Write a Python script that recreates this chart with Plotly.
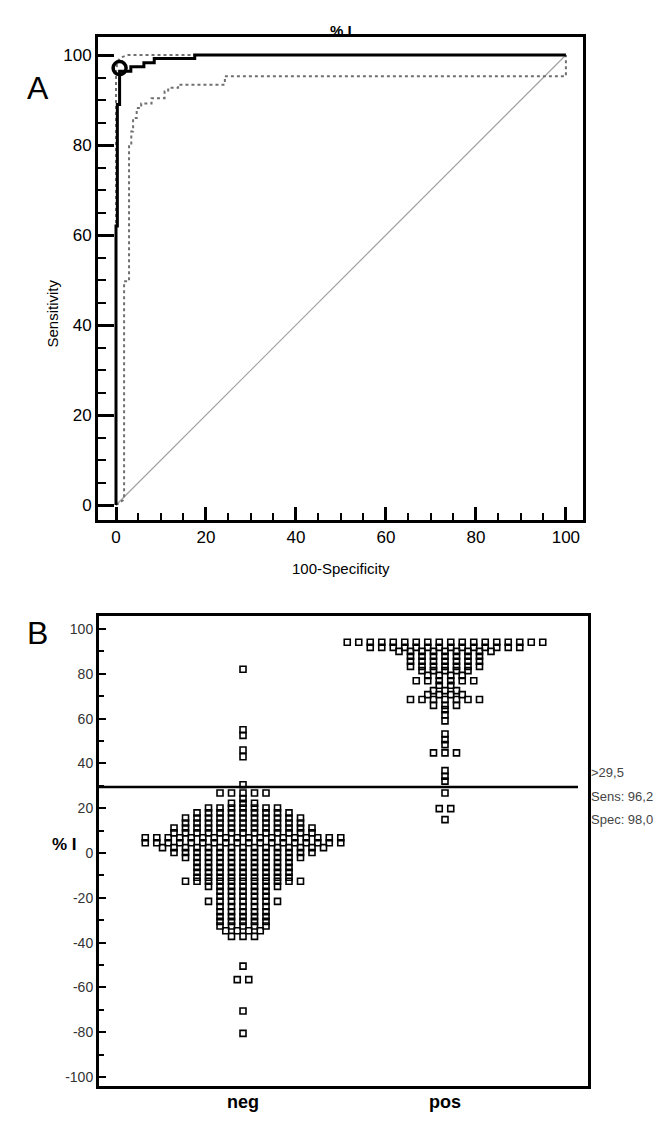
import plotly.graph_objects as go

# ---------------- Panel A : ROC curve data ----------------
roc_x = [0, 0, 0.3, 0.3, 0.8, 0.8, 3.3, 3.3, 6.2, 6.2, 8.5, 8.5, 17.5, 17.5, 100]
roc_y = [0, 62, 62, 89, 89, 96.4, 96.4, 97.4, 97.4, 98.3, 98.3, 99.2, 99.2, 100, 100]

ci_upper_x = [0, 0, 0.3, 1.2, 2.7, 100]
ci_upper_y = [0, 96, 98.6, 99.5, 100, 100]

ci_lower_x = [0, 1.8, 1.8, 2.9, 2.9, 3.4, 3.4, 3.8, 3.8, 4.6, 4.6, 5.6, 5.6, 7.9, 7.9,
              10.8, 10.8, 11.6, 11.6, 13.8, 13.8, 24.2, 24.2, 100, 100]
ci_lower_y = [0, 1.2, 49.7, 49.7, 80.1, 80.1, 83, 83, 86, 86, 88.2, 88.2, 89.2, 89.2, 90.4,
              90.4, 91.9, 91.9, 92.7, 92.7, 93.4, 93.4, 95.3, 95.3, 100]

diag_x = [0, 100]
diag_y = [0, 100]

opt_x = [0.8]
opt_y = [97.1]

x_ticks_a = [0, 20, 40, 60, 80, 100]
y_ticks_a = [0, 20, 40, 60, 80, 100]

# ---------------- Panel B : dot plot data (value levels and counts) ----------------
groups = ["neg", "pos"]
neg_levels = [82, 55, 52.5, 46, 43, 30.5, 26.8, 24.3, 22.2, 20.1, 17.9, 15.6, 13.4, 11.2, 9.0,
              6.8, 4.6, 2.4, 0.2, -2.0, -4.2, -6.4, -8.6, -10.8, -12.6, -14.9, -17.1, -19.3,
              -21.6, -23.9, -26.2, -28.4, -30.5, -32.6, -34.7, -37.2, -50.5, -56.5, -70.5, -80.5]
neg_counts = [1, 1, 1, 1, 1, 1, 5, 1, 3, 7, 9, 11, 11, 13, 13,
              18, 18, 15, 13, 11, 9, 9, 9, 9, 11, 7, 5, 5,
              7, 5, 5, 5, 5, 5, 4, 3, 1, 2, 1, 1]
pos_levels = [94.1, 91.8, 90.0, 87.8, 85.6, 83.3, 81.4, 79.3, 76.9, 74.9, 72.5, 70.7, 68.5,
              65.9, 64.0, 61.7, 59.0, 53.1, 50.6, 48.4, 44.7, 36.8, 34.3, 32.1, 26.8, 19.8, 14.9]
pos_counts = [18, 14, 9, 7, 7, 7, 5, 4, 6, 2, 3, 4, 7,
              3, 1, 1, 1, 1, 1, 1, 3, 1, 1, 1, 1, 2, 1]
cutoff = 29.5
cutoff_text = [">29,5", "Sens: 96,2", "Spec: 98,0"]
y_ticks_b = [-100, -80, -60, -40, -20, 0, 20, 40, 60, 80, 100]
y_ticktext_b = ["-100", "-80", "-60", "-40", "-20", "0", "20", "40", "60", "80", "100"]

W, H = 666, 1126
FONT = "Liberation Sans, Arial, sans-serif"
NARROW = "Liberation Sans Narrow, Arial Narrow, Liberation Sans, Arial, sans-serif"


def px_x(p):
    return p / W


def px_y(p):
    return 1 - p / H


def dot_positions(center, levels, counts, step):
    xs, ys = [], []
    for v, n in zip(levels, counts):
        for i in range(n):
            xs.append(center + (i - (n - 1) / 2) * step)
            ys.append(v)
    return xs, ys


fig = go.Figure()

# Panel A traces
fig.add_trace(go.Scatter(x=diag_x, y=diag_y, mode="lines",
                         line=dict(color="#a0a0a0", width=1.2), xaxis="x", yaxis="y"))
fig.add_trace(go.Scatter(x=ci_lower_x, y=ci_lower_y, mode="lines",
                         line=dict(color="#707070", width=2, dash="dot"), xaxis="x", yaxis="y"))
fig.add_trace(go.Scatter(x=ci_upper_x, y=ci_upper_y, mode="lines",
                         line=dict(color="#707070", width=2, dash="dot"), xaxis="x", yaxis="y"))
fig.add_trace(go.Scatter(x=roc_x, y=roc_y, mode="lines",
                         line=dict(color="black", width=3), xaxis="x", yaxis="y"))
fig.add_trace(go.Scatter(x=opt_x, y=opt_y, mode="markers",
                         marker=dict(symbol="circle-open", size=13, color="black",
                                     line=dict(width=3.5, color="black")),
                         xaxis="x", yaxis="y"))

# Panel B traces
step = 11.5 / 202.0
nx, ny = dot_positions(0, neg_levels, neg_counts, step)
px_, py_ = dot_positions(1, pos_levels, pos_counts, step)
for xs, ys in ((nx, ny), (px_, py_)):
    fig.add_trace(go.Scatter(x=xs, y=ys, mode="markers",
                             marker=dict(symbol="square-open", size=6, color="black",
                                         line=dict(width=1.6, color="black")),
                             xaxis="x2", yaxis="y2"))

axis_common = dict(showgrid=False, zeroline=False, showline=True, mirror=True,
                   linecolor="black", linewidth=3)

fig.update_layout(
    width=W, height=H, margin=dict(l=0, r=0, t=0, b=0),
    paper_bgcolor="white", plot_bgcolor="white", showlegend=False,
    font=dict(family=FONT, color="black"),
    xaxis=dict(domain=[px_x(90), px_x(575)], range=[-4, 103.8], anchor="y",
               tickvals=x_ticks_a, ticks="inside", ticklen=13, tickwidth=2.5,
               tickcolor="black", tickfont=dict(size=17, family=FONT),
               minor=dict(ticks="inside", ticklen=7, tickwidth=2, dtick=5, tick0=0,
                          tickcolor="black", showgrid=False),
               **axis_common),
    yaxis=dict(domain=[px_y(512), px_y(29)], range=[-3.33, 104], anchor="x",
               tickvals=y_ticks_a, ticks="inside", ticklen=16, tickwidth=2.5,
               tickcolor="black", tickfont=dict(size=17, family=FONT),
               minor=dict(ticks="inside", ticklen=8, tickwidth=2, dtick=5, tick0=0,
                          tickcolor="black", showgrid=False),
               **axis_common),
    xaxis2=dict(domain=[px_x(91), px_x(580)], range=[-0.713, 1.708], anchor="y2",
                showticklabels=False, ticks="",
                **axis_common),
    yaxis2=dict(domain=[px_y(1078), px_y(608)], range=[-104, 105.8], anchor="x2",
                tickvals=y_ticks_b, ticktext=y_ticktext_b, ticks="inside", ticklen=7,
                tickwidth=2, tickcolor="black",
                tickfont=dict(size=14, family=NARROW, color="#333"),
                minor=dict(ticks="inside", ticklen=5, tickwidth=2, dtick=10, tick0=0,
                           tickcolor="black", showgrid=False),
                **axis_common),
    shapes=[dict(type="line", xref="x2 domain", yref="y2", x0=0, x1=(570 - 91) / (580 - 91),
                 y0=cutoff, y1=cutoff, line=dict(color="black", width=2.5))],
)

ann = []
ann.append(dict(text="<b>% I</b>", x=px_x(333), y=px_y(12), xref="paper", yref="paper",
                showarrow=False, font=dict(size=15, family=FONT)))
ann.append(dict(text="A", x=px_x(17), y=px_y(60), xref="paper", yref="paper",
                showarrow=False, font=dict(size=32, family=FONT)))
ann.append(dict(text="B", x=px_x(17), y=px_y(625), xref="paper", yref="paper",
                showarrow=False, font=dict(size=32, family=FONT)))
ann.append(dict(text="100-Specificity", x=px_x(333), y=px_y(560), xref="paper", yref="paper",
                showarrow=False, font=dict(size=15, family=FONT)))
ann.append(dict(text="Sensitivity", x=px_x(33), y=px_y(270), xref="paper", yref="paper",
                showarrow=False, textangle=-90, font=dict(size=15, family=FONT)))
ann.append(dict(text="<b>% I</b>", x=px_x(42), y=px_y(848), xref="paper", yref="paper",
                showarrow=False, font=dict(size=17, family=FONT)))
for gx, g in zip([0, 1], groups):
    ann.append(dict(text="<b>" + g + "</b>", x=gx, xref="x2", y=px_y(1106), yref="paper",
                    showarrow=False, font=dict(size=18, family=FONT)))
for i, t in enumerate(cutoff_text):
    ann.append(dict(text=t, x=px_x(582), y=px_y(773 + i * 23.5), xref="paper", yref="paper",
                    xanchor="left", showarrow=False, borderpad=0,
                    font=dict(size=13, family=NARROW, color="#444")))
fig.update_layout(annotations=ann)

fig.write_html("out.html")
